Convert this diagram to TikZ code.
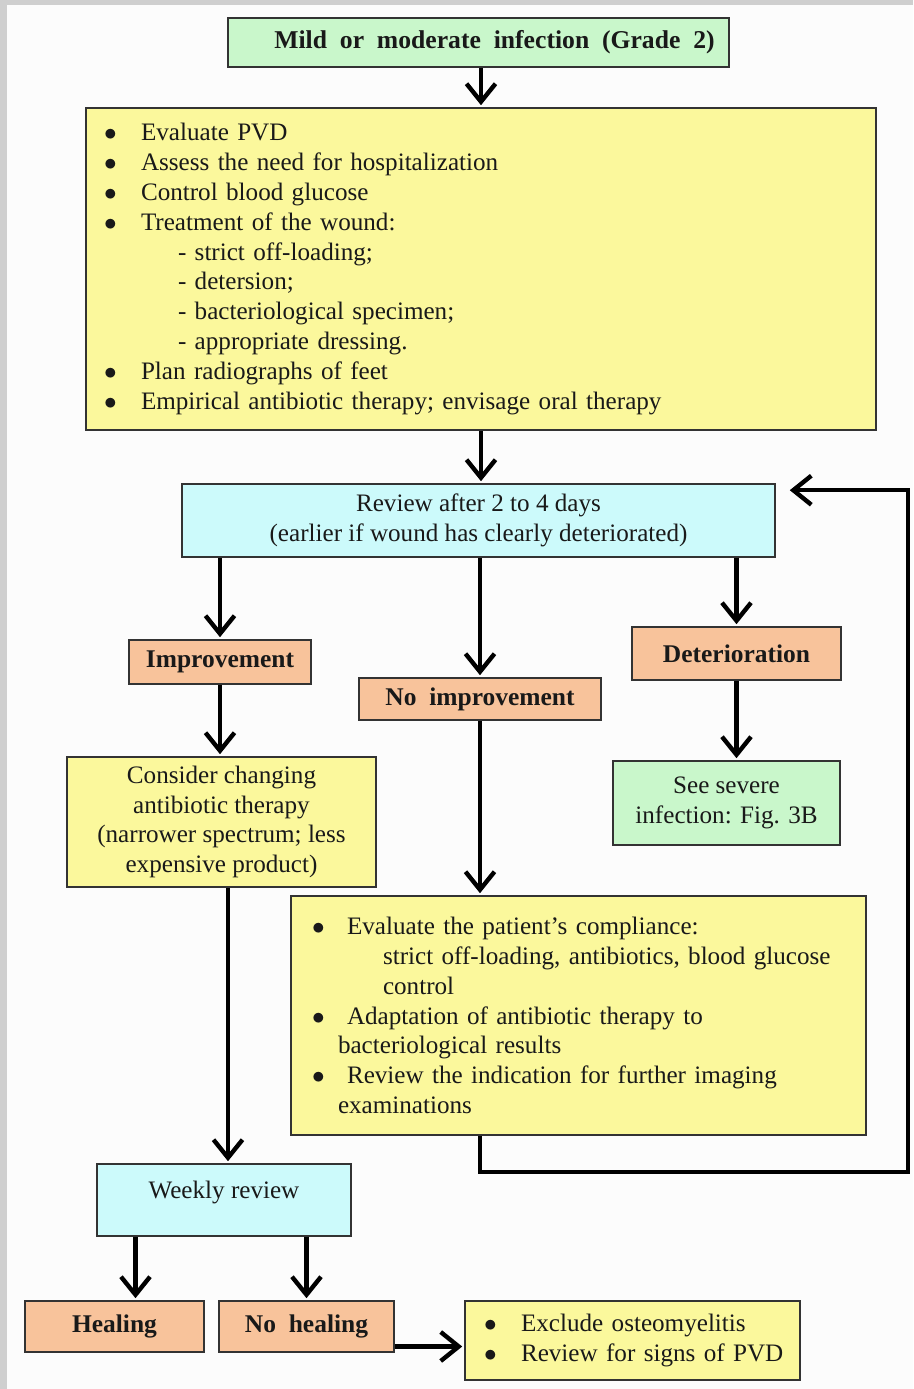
\documentclass[tikz,border=0pt]{standalone}
\usepackage{fontspec}
\setmainfont{Liberation Serif}
\usepackage{tikz}
\usetikzlibrary{positioning,arrows.meta,calc}
\definecolor{gradegreen}{HTML}{C9F7CB}
\definecolor{careyellow}{HTML}{FBF89C}
\definecolor{reviewcyan}{HTML}{CCFAFB}
\definecolor{outcome}{HTML}{F8C39B}
\definecolor{frame}{HTML}{CFCFCF}
\definecolor{paper}{HTML}{FCFCFC}
\newlength\pu
\setlength\pu{0.02cm}
\newcommand{\bul}[1][37\pu]{\makebox[#1][l]{$\bullet$}}

\begin{document}
\begin{tikzpicture}[
  x=0.02cm, y=-0.02cm,
  every node/.style={font=\fontsize{14.3}{17}\selectfont, text=black!90},
  flowbox/.style={draw=black!80, line width=0.9pt, inner sep=0pt},
  greenbox/.style={flowbox, fill=gradegreen, align=center},
  yellowbox/.style={flowbox, fill=careyellow},
  cyanbox/.style={flowbox, fill=reviewcyan, align=center},
  peachbox/.style={flowbox, fill=outcome, font=\fontsize{14.5}{17}\selectfont\bfseries},
  arrow/.style={-{Straight Barb[length=0.36cm, width=0.58cm]}, line width=2.5pt, shorten >=2\pu},
]
  % page and margins
  \fill[frame] (0,0) rectangle (913,1389);
  \fill[paper] (7,5) rectangle (913,1389);
  \useasboundingbox (0,0) rectangle (913,1389);

  \node[greenbox, font=\fontsize{14.6}{17}\selectfont\bfseries, minimum width=501\pu, minimum height=49\pu] (grade) at (478.5,42.5)
    {\hspace*{32\pu}Mild\ \ or\ \ moderate\ \ infection\ \ (Grade\ \ 2)};

  \node[yellowbox, minimum width=790\pu, minimum height=322\pu, text width=754\pu, inner xsep=18\pu, align=left] (initial) at (481,269) {%
    \bul Evaluate PVD\\
    \bul Assess the need for hospitalization\\
    \bul Control blood glucose\\
    \bul Treatment of the wound:\\
    \hspace*{74\pu}- strict off-loading;\\
    \hspace*{74\pu}- detersion;\\
    \hspace*{74\pu}- bacteriological specimen;\\
    \hspace*{74\pu}- appropriate dressing.\\
    \bul Plan radiographs of feet\\
    \bul Empirical antibiotic therapy; envisage oral therapy};

  \node[cyanbox, minimum width=593\pu, minimum height=73\pu] (review) at (478.5,520.5)
    {Review after 2 to 4 days\\(earlier if wound has clearly deteriorated)};

  \node[peachbox, minimum width=182\pu, minimum height=44\pu] (improve) at (220,662) {Improvement};
  \node[peachbox, minimum width=242\pu, minimum height=42\pu] (noimprove) at (480,699) {No\ \ improvement};
  \node[peachbox, minimum width=209\pu, minimum height=53\pu] (worse) at (736.5,653.5) {Deterioration};

  \node[yellowbox, align=center, minimum width=309\pu, minimum height=130\pu] (consider) at (221.5,822)
    {Consider changing\\antibiotic therapy\\(narrower spectrum; less\\expensive product)};
  \node[greenbox, minimum width=227\pu, minimum height=84\pu] (severe) at (726.5,803)
    {See severe\\infection: Fig. 3B};

  \node[yellowbox, minimum width=575\pu, minimum height=239\pu, text width=533\pu, inner xsep=21\pu, align=left] (compliance) at (578.5,1015.5) {%
    \bul[26\pu]\hspace{9\pu}Evaluate the patient’s compliance:\\
    \hspace*{71\pu}strict off-loading, antibiotics, blood glucose\\
    \hspace*{71\pu}control\\
    \bul[26\pu]\hspace{9\pu}Adaptation of antibiotic therapy to\\
    \hspace*{26\pu}bacteriological results\\
    \bul[26\pu]\hspace{9\pu}Review the indication for further imaging\\
    \hspace*{26\pu}examinations};

  \node[cyanbox, minimum width=254\pu, minimum height=72\pu] (weekly) at (224,1200) {\raisebox{20\pu}{Weekly review}};

  \node[peachbox, minimum width=179\pu, minimum height=51\pu] (healing) at (114.5,1326.5) {Healing};
  \node[peachbox, minimum width=175\pu, minimum height=51\pu] (nohealing) at (306.5,1326.5) {No\ \ healing};
  \node[yellowbox, minimum width=335\pu, minimum height=79\pu, text width=297\pu, inner xsep=19\pu, align=left] (exclude) at (632.5,1340.5) {%
    \mbox{\bul Exclude osteomyelitis}\\
    \mbox{\bul Review for signs of PVD}};

  \coordinate (loopcorner) at (908,1172);

  \draw[arrow] (initial.north |- grade.south) -- (initial.north);
  \draw[arrow] (initial.south) -- (initial.south |- review.north);
  \draw[arrow] (improve.north |- review.south) -- (improve.north);
  \draw[arrow] (noimprove.north |- review.south) -- (noimprove.north);
  \draw[arrow] (worse.north |- review.south) -- (worse.north);
  \draw[arrow] (improve.south) -- (improve.south |- consider.north);
  \draw[arrow] (worse.south) -- (worse.south |- severe.north);
  \draw[arrow] (noimprove.south) -- (noimprove.south |- compliance.north);
  \draw[arrow] ([xshift=4\pu]weekly.north |- consider.south) -- ([xshift=4\pu]weekly.north);
  \draw[arrow] (compliance.south -| noimprove.south) |- (loopcorner) |- ([xshift=12\pu,yshift=-7\pu]review.north east);
  \draw[arrow] ([xshift=21\pu]healing.north |- weekly.south) -- ([xshift=21\pu]healing.north);
  \draw[arrow] (nohealing.north |- weekly.south) -- (nohealing.north);
  \draw[arrow] ([yshift=-20\pu]nohealing.east) -- ([yshift=-20\pu]nohealing.east -| exclude.west);
\end{tikzpicture}
\end{document}
